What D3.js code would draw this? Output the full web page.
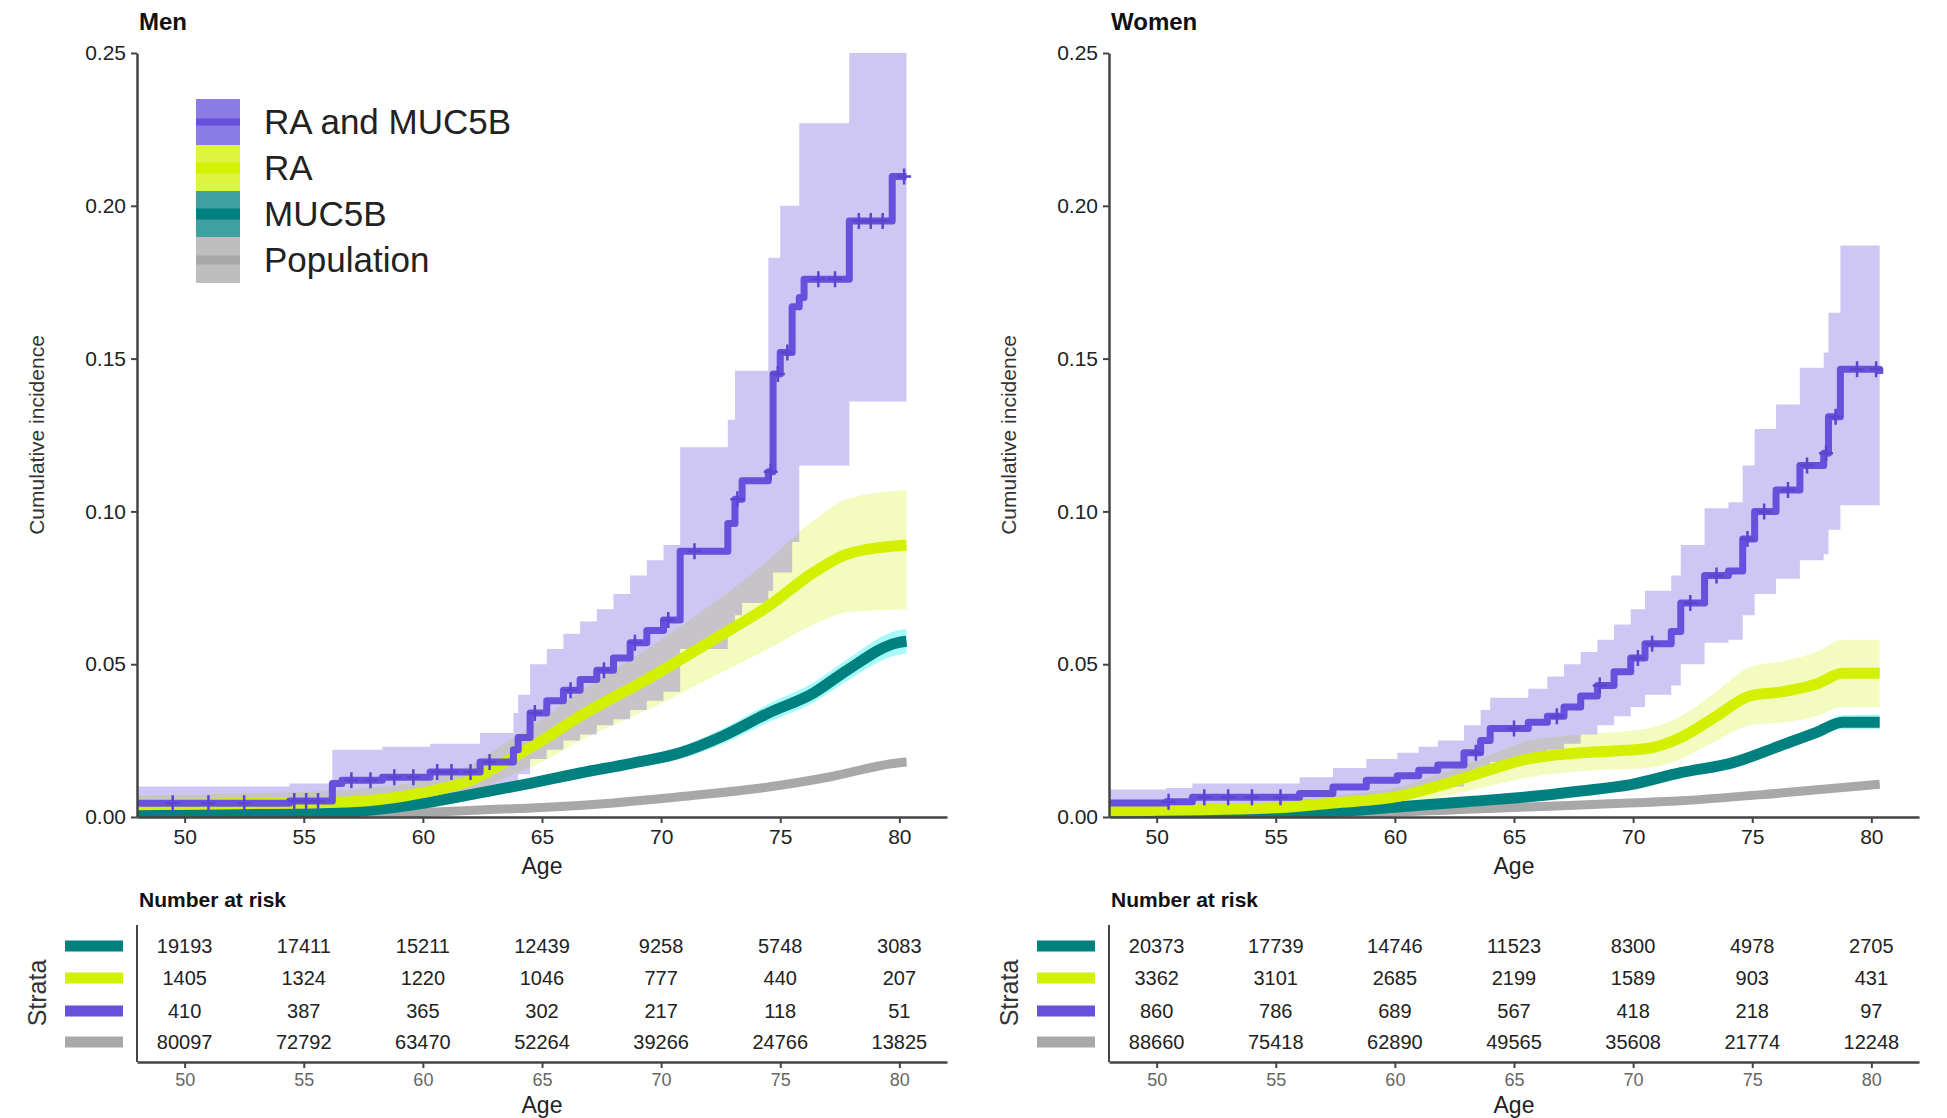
<!DOCTYPE html>
<html>
<head>
<meta charset="utf-8">
<script src="https://cdn.jsdelivr.net/npm/d3@7"></script>
<style>
  body { margin: 0; background: #fff; }
  svg { display: block; font-family: "Liberation Sans", Arial, sans-serif; }
</style>
</head>
<body>
<svg id="chart" width="1947" height="1118"></svg>
<script>
// cumulative incidence by age, men and women, four strata

var AGE_TICKS = [50, 55, 60, 65, 70, 75, 80];
var INC_TICKS = [0, 0.05, 0.10, 0.15, 0.20, 0.25];
var STRATA = ['MUC5B', 'RA', 'RA and MUC5B', 'Population'];       // risk table order
var LEGEND_ORDER = ['RA and MUC5B', 'RA', 'MUC5B', 'Population'];
var DRAW_ORDER = ['Population', 'MUC5B', 'RA', 'RA and MUC5B'];

// rows: [age, estimate, lower CI, upper CI]
var MEN_RAMUC = [
  [48.0, 0.0045, 0.001, 0.010], [54.4, 0.0052, 0.0015, 0.011], [56.2, 0.011, 0.004, 0.022],
  [56.6, 0.012, 0.005, 0.022], [58.3, 0.013, 0.006, 0.023], [60.3, 0.0147, 0.007, 0.024],
  [62.4, 0.018, 0.009, 0.0275], [63.8, 0.022, 0.011, 0.034], [64.0, 0.026, 0.014, 0.040],
  [64.5, 0.034, 0.019, 0.050], [65.2, 0.038, 0.022, 0.055], [65.9, 0.0415, 0.025, 0.060],
  [66.6, 0.045, 0.027, 0.064], [67.3, 0.048, 0.030, 0.068], [68.0, 0.052, 0.032, 0.073],
  [68.7, 0.057, 0.035, 0.079], [69.4, 0.061, 0.038, 0.084], [70.1, 0.0645, 0.041, 0.089],
  [70.8, 0.087, 0.055, 0.121], [72.8, 0.096, 0.060, 0.130], [73.1, 0.104, 0.066, 0.146],
  [73.4, 0.110, 0.070, 0.146], [74.5, 0.113, 0.074, 0.183], [74.7, 0.145, 0.080, 0.183],
  [75.0, 0.152, 0.080, 0.200], [75.5, 0.167, 0.090, 0.200], [75.8, 0.170, 0.115, 0.227],
  [76.0, 0.176, 0.115, 0.227], [77.9, 0.195, 0.136, 0.260], [79.7, 0.2096, 0.136, 0.260],
  [80.3, 0.2096, 0.136, 0.260]
];
var MEN_RA = [
  [48, 0.004, 0.002, 0.007], [54, 0.0045, 0.002, 0.008], [57, 0.005, 0.003, 0.009],
  [60, 0.008, 0.005, 0.012], [62, 0.012, 0.008, 0.017], [63.8, 0.0196, 0.014, 0.026],
  [65, 0.025, 0.018, 0.032], [66.6, 0.033, 0.025, 0.041], [69.4, 0.045, 0.035, 0.055],
  [72.2, 0.058, 0.046, 0.070], [74.5, 0.069, 0.055, 0.084], [76.4, 0.080, 0.063, 0.097],
  [77.8, 0.086, 0.067, 0.104], [80.3, 0.089, 0.068, 0.107]
];
var MEN_MUC5B = [
  [48, 0.0005, 0.0002, 0.001], [55, 0.001, 0.0006, 0.0015], [57.5, 0.002, 0.0015, 0.003],
  [60, 0.0045, 0.0035, 0.0055], [62.4, 0.0079, 0.0068, 0.009], [64.5, 0.011, 0.0097, 0.0123],
  [66.6, 0.0144, 0.0129, 0.016], [68.7, 0.0175, 0.0158, 0.0192], [70.8, 0.021, 0.019, 0.023],
  [72.6, 0.0265, 0.024, 0.029], [74.5, 0.034, 0.031, 0.037], [76.4, 0.0406, 0.0375, 0.044],
  [77.8, 0.048, 0.0445, 0.0515], [79.9, 0.057, 0.053, 0.061], [80.3, 0.0575, 0.0535, 0.0615]
];
var MEN_POP = [
  [48, 0.0004, 0.0003, 0.0005], [55, 0.0008, 0.0006, 0.001], [60, 0.0015, 0.0012, 0.0018],
  [62.4, 0.0023, 0.002, 0.0026], [65, 0.0031, 0.0027, 0.0035], [68, 0.0046, 0.0041, 0.0051],
  [71, 0.0068, 0.0062, 0.0074], [74.5, 0.0098, 0.009, 0.0106], [77, 0.013, 0.012, 0.014],
  [79.9, 0.0177, 0.0163, 0.019], [80.3, 0.018, 0.0166, 0.0194]
];

var WOMEN_RAMUC = [
  [48, 0.0046, 0.002, 0.009], [50.4, 0.005, 0.002, 0.0095], [51.5, 0.0065, 0.0028, 0.011],
  [56, 0.0077, 0.0035, 0.013], [57.4, 0.0098, 0.005, 0.016], [58.8, 0.012, 0.0065, 0.019],
  [60.1, 0.0135, 0.0075, 0.021], [61.0, 0.0153, 0.009, 0.023], [61.8, 0.017, 0.010, 0.025],
  [62.9, 0.021, 0.013, 0.030], [63.6, 0.025, 0.016, 0.035], [64.0, 0.029, 0.018, 0.039],
  [65.6, 0.031, 0.020, 0.042], [66.4, 0.033, 0.022, 0.046], [67.1, 0.036, 0.024, 0.050],
  [67.8, 0.0396, 0.027, 0.054], [68.5, 0.043, 0.030, 0.058], [69.2, 0.0475, 0.033, 0.063],
  [69.9, 0.052, 0.036, 0.068], [70.5, 0.0567, 0.040, 0.074], [71.6, 0.0607, 0.043, 0.079],
  [72.0, 0.070, 0.050, 0.089], [73.0, 0.079, 0.057, 0.101], [74.0, 0.0805, 0.058, 0.103],
  [74.6, 0.091, 0.066, 0.115], [75.1, 0.100, 0.073, 0.127], [76.0, 0.107, 0.078, 0.135],
  [77.0, 0.115, 0.084, 0.147], [78.0, 0.119, 0.086, 0.152], [78.2, 0.131, 0.094, 0.165],
  [78.7, 0.1465, 0.102, 0.187], [80.35, 0.145, 0.102, 0.187]
];
var WOMEN_RA = [
  [48, 0.002, 0.001, 0.004], [55, 0.003, 0.0015, 0.005], [57.4, 0.0046, 0.0025, 0.007],
  [60.2, 0.0068, 0.004, 0.010], [62.2, 0.011, 0.007, 0.015], [63.6, 0.0145, 0.0095, 0.019],
  [65.6, 0.019, 0.013, 0.025], [67.8, 0.021, 0.015, 0.027], [70.6, 0.0224, 0.016, 0.029],
  [72.0, 0.026, 0.019, 0.033], [73.5, 0.033, 0.025, 0.041], [74.9, 0.0396, 0.030, 0.049],
  [76.3, 0.041, 0.031, 0.051], [77.7, 0.0435, 0.033, 0.054], [78.8, 0.047, 0.036, 0.058],
  [80.35, 0.047, 0.036, 0.058]
];
var WOMEN_MUC5B = [
  [48, 0.0006, 0.0004, 0.0009], [55, 0.0012, 0.0009, 0.0016], [58, 0.002, 0.0016, 0.0025],
  [60.1, 0.0033, 0.0028, 0.0038], [63, 0.005, 0.0044, 0.0056], [65.6, 0.0066, 0.0059, 0.0073],
  [67.8, 0.0085, 0.0077, 0.0093], [69.9, 0.0106, 0.0097, 0.0115], [72, 0.0145, 0.0134, 0.0156],
  [74.2, 0.0178, 0.0165, 0.0191], [76.3, 0.0237, 0.022, 0.0254], [77.7, 0.0277, 0.0258, 0.0296],
  [78.8, 0.031, 0.0288, 0.0333], [80.35, 0.031, 0.0288, 0.0335]
];
var WOMEN_POP = [
  [48, 0.0003, 0.0002, 0.0004], [55, 0.0008, 0.0006, 0.001], [60, 0.0016, 0.0013, 0.0019],
  [63, 0.0025, 0.0021, 0.0029], [65.6, 0.0033, 0.0029, 0.0037], [69, 0.0043, 0.0038, 0.0048],
  [72, 0.0053, 0.0047, 0.0059], [76.3, 0.0079, 0.0071, 0.0087], [80.35, 0.0107, 0.0097, 0.0117]
];

// censoring ages marked on the RA and MUC5B curve
var MEN_CENSOR = [49.5, 51, 52.5, 54.6, 55.1, 55.6, 57, 57.8, 58.8, 59.6, 60.6, 61.2, 62, 62.8,
  64.7, 66.2, 67.6, 68.9, 70.3, 71.4, 73.2, 74.6, 74.9, 75.3, 76.6, 77.3, 78.3, 78.8, 79.3, 80.2];
var WOMEN_CENSOR = [50.5, 52, 53, 54, 55.2, 63.4, 65, 66.8, 68.6, 70.2, 70.8, 72.4, 73.5,
  74.8, 75.5, 76.5, 77.3, 78.1, 78.5, 79.4, 80.2];

// number at risk at ages 50..80
var MEN_RISK = {
  'MUC5B':        [19193, 17411, 15211, 12439, 9258, 5748, 3083],
  'RA':           [1405, 1324, 1220, 1046, 777, 440, 207],
  'RA and MUC5B': [410, 387, 365, 302, 217, 118, 51],
  'Population':   [80097, 72792, 63470, 52264, 39266, 24766, 13825]
};
var WOMEN_RISK = {
  'MUC5B':        [20373, 17739, 14746, 11523, 8300, 4978, 2705],
  'RA':           [3362, 3101, 2685, 2199, 1589, 903, 431],
  'RA and MUC5B': [860, 786, 689, 567, 418, 218, 97],
  'Population':   [88660, 75418, 62890, 49565, 35608, 21774, 12248]
};

var COLORS = {
  'RA and MUC5B': '#6650dc',
  'RA':           '#d2f000',
  'MUC5B':        '#00807f',
  'Population':   '#a8a8a8'
};
var RIBBONS = {
  'RA and MUC5B': ['#6650dc', 0.32],
  'RA':           ['#d2f000', 0.25],
  'MUC5B':        ['#5ff5f5', 0.55],
  'Population':   ['#b0b0b0', 0.5]
};
var LINE_W = { 'RA and MUC5B': 7, 'RA': 11, 'MUC5B': 11, 'Population': 9 };

var PLOT_TOP = 53, PLOT_BOTTOM = 817, PLOT_W = 810;
var RISK_ROWS_Y = [946, 978, 1011, 1042];
var RISK_AXIS_Y = 1062;
var TEXT = '#222';

var svg = d3.select('#chart');

function styleAxis(sel, size, color) {
  sel.select('.domain').attr('stroke', '#444').attr('stroke-width', 2.5);
  sel.selectAll('.tick line').attr('stroke', '#444').attr('stroke-width', 2);
  sel.selectAll('.tick text')
    .attr('fill', color || TEXT)
    .attr('font-size', size + 'px')
    .attr('font-family', '"Liberation Sans", Arial, sans-serif');
}

function stepValue(rows, age) {
  var v = rows[0][1];
  rows.forEach(function (r) { if (r[0] <= age) v = r[1]; });
  return v;
}

function drawPanel(p) {
  var x = d3.scaleLinear().domain([48, 82]).range([p.x0, p.x0 + PLOT_W]);
  var y = d3.scaleLinear().domain([0, 0.25]).range([PLOT_BOTTOM, PLOT_TOP]);
  var g = svg.append('g').attr('class', 'panel-' + p.key);

  svg.append('clipPath').attr('id', 'clip-' + p.key)
    .append('rect')
    .attr('x', p.x0).attr('y', PLOT_TOP)
    .attr('width', PLOT_W).attr('height', PLOT_BOTTOM - PLOT_TOP);

  var plot = g.append('g').attr('clip-path', 'url(#clip-' + p.key + ')');

  DRAW_ORDER.forEach(function (s) {
    var curve = s === 'RA and MUC5B' ? d3.curveStepAfter : d3.curveMonotoneX;
    var area = d3.area()
      .x(function (d) { return x(d[0]); })
      .y0(function (d) { return y(d[2]); })
      .y1(function (d) { return y(d[3]); })
      .curve(curve);
    plot.append('path')
      .attr('d', area(p.series[s]))
      .attr('fill', RIBBONS[s][0])
      .attr('fill-opacity', RIBBONS[s][1]);
  });

  DRAW_ORDER.forEach(function (s) {
    var curve = s === 'RA and MUC5B' ? d3.curveStepAfter : d3.curveMonotoneX;
    var line = d3.line()
      .x(function (d) { return x(d[0]); })
      .y(function (d) { return y(d[1]); })
      .curve(curve);
    plot.append('path')
      .attr('d', line(p.series[s]))
      .attr('fill', 'none')
      .attr('stroke', COLORS[s])
      .attr('stroke-width', LINE_W[s])
      .attr('stroke-linejoin', 'round');
  });

  // censor marks
  var ramuc = p.series['RA and MUC5B'];
  p.censor.forEach(function (a) {
    var cx = x(a), cy = y(stepValue(ramuc, a));
    plot.append('path')
      .attr('d', 'M' + (cx - 7) + ',' + cy + 'H' + (cx + 7) + 'M' + cx + ',' + (cy - 8) + 'V' + (cy + 8))
      .attr('stroke', '#5a44d0')
      .attr('stroke-width', 2.5);
  });

  // axes
  var xAxis = g.append('g')
    .attr('transform', 'translate(0,' + PLOT_BOTTOM + ')')
    .call(d3.axisBottom(x).tickValues(AGE_TICKS).tickSize(6).tickSizeOuter(0).tickPadding(6));
  styleAxis(xAxis, 21);

  var yAxis = g.append('g')
    .attr('transform', 'translate(' + p.x0 + ',0)')
    .call(d3.axisLeft(y).tickValues(INC_TICKS).tickFormat(d3.format('.2f'))
      .tickSize(6).tickSizeOuter(0).tickPadding(5));
  styleAxis(yAxis, 21);

  g.append('text')
    .attr('x', p.x0 + 2).attr('y', 22).attr('dy', '0.35em')
    .attr('font-size', '24px').attr('font-weight', 'bold').attr('fill', '#111')
    .text(p.title);

  g.append('text')
    .attr('x', x(65)).attr('y', 866).attr('dy', '0.35em')
    .attr('text-anchor', 'middle').attr('font-size', '23px').attr('fill', TEXT)
    .text('Age');

  g.append('text')
    .attr('transform', 'translate(' + (p.x0 - 100) + ',435) rotate(-90)')
    .attr('dy', '0.35em')
    .attr('text-anchor', 'middle').attr('font-size', '21px').attr('fill', '#333')
    .text('Cumulative incidence');

  // legend
  if (p.legend) {
    var lg = g.append('g').attr('transform', 'translate(196,99)');
    LEGEND_ORDER.forEach(function (s, i) {
      var row = lg.append('g').attr('transform', 'translate(0,' + (i * 46) + ')');
      row.append('rect')
        .attr('width', 44).attr('height', 46)
        .attr('fill', COLORS[s]).attr('fill-opacity', 0.75);
      row.append('rect')
        .attr('y', 23 - LINE_W[s] / 2)
        .attr('width', 44).attr('height', LINE_W[s])
        .attr('fill', COLORS[s]);
      row.append('text')
        .attr('x', 68).attr('y', 23).attr('dy', '0.35em')
        .attr('font-size', '35px').attr('fill', TEXT)
        .text(s);
    });
  }

  // risk table
  var t = g.append('g');
  t.append('text')
    .attr('x', p.x0 + 2).attr('y', 900).attr('dy', '0.35em')
    .attr('font-size', '21px').attr('font-weight', 'bold').attr('fill', '#111')
    .text('Number at risk');

  STRATA.forEach(function (s, i) {
    var ry = RISK_ROWS_Y[i];
    t.append('line')
      .attr('x1', p.x0 - 72).attr('x2', p.x0 - 14)
      .attr('y1', ry).attr('y2', ry)
      .attr('stroke', COLORS[s]).attr('stroke-width', 11);
    p.risk[s].forEach(function (n, j) {
      t.append('text')
        .attr('x', x(AGE_TICKS[j])).attr('y', ry).attr('dy', '0.35em')
        .attr('text-anchor', 'middle').attr('font-size', '20px').attr('fill', TEXT)
        .text(n);
    });
  });

  t.append('line')
    .attr('x1', p.x0).attr('x2', p.x0)
    .attr('y1', 925).attr('y2', RISK_AXIS_Y)
    .attr('stroke', '#444').attr('stroke-width', 2);

  var tAxis = t.append('g')
    .attr('transform', 'translate(0,' + RISK_AXIS_Y + ')')
    .call(d3.axisBottom(x).tickValues(AGE_TICKS).tickSize(6).tickSizeOuter(0).tickPadding(5));
  styleAxis(tAxis, 18, '#666');

  t.append('text')
    .attr('x', x(65)).attr('y', 1105).attr('dy', '0.35em')
    .attr('text-anchor', 'middle').attr('font-size', '23px').attr('fill', TEXT)
    .text('Age');

  t.append('text')
    .attr('transform', 'translate(' + (p.x0 - 100) + ',993) rotate(-90)')
    .attr('dy', '0.35em')
    .attr('text-anchor', 'middle').attr('font-size', '25px').attr('fill', '#333')
    .text('Strata');
}

drawPanel({
  key: 'men', title: 'Men', x0: 137, legend: true,
  series: { 'RA and MUC5B': MEN_RAMUC, 'RA': MEN_RA, 'MUC5B': MEN_MUC5B, 'Population': MEN_POP },
  censor: MEN_CENSOR, risk: MEN_RISK
});
drawPanel({
  key: 'women', title: 'Women', x0: 1109, legend: false,
  series: { 'RA and MUC5B': WOMEN_RAMUC, 'RA': WOMEN_RA, 'MUC5B': WOMEN_MUC5B, 'Population': WOMEN_POP },
  censor: WOMEN_CENSOR, risk: WOMEN_RISK
});
</script>
</body>
</html>
